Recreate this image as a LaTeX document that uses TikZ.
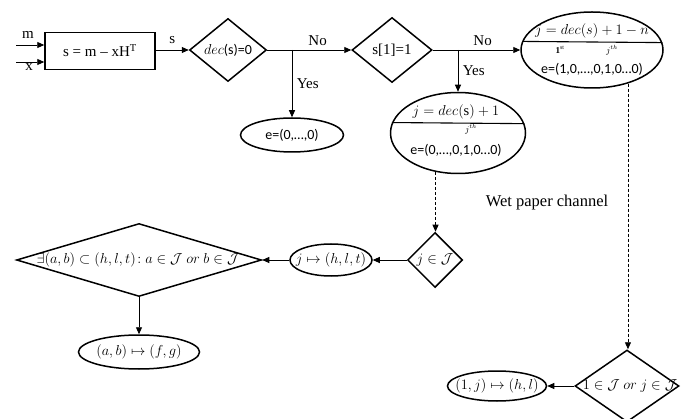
\documentclass[tikz,border=0pt]{standalone}
\usepackage{fontspec}
\setmainfont{Liberation Serif}
\newfontfamily\sansf{Carlito}
\usetikzlibrary{shapes.geometric,arrows.meta,calc}
\begin{document}
\begin{tikzpicture}[x=1pt,y=-1pt,
  every node/.style={font=\fontsize{15}{17}\selectfont},
  shp/.style={draw,line width=1.5pt,inner sep=0pt},
  dia/.style={shp,diamond},
  ell/.style={shp,ellipse},
  conn/.style={line width=0.9pt,-{Triangle[length=7pt,width=6pt]}},
  dconn/.style={conn,densely dashed},
  mth/.style={inner sep=1pt,font=\fontsize{14.5}{16}\selectfont},
  snt/.style={inner sep=1pt,font=\fontsize{14}{16}\selectfont\sansf},
  tiny/.style={inner sep=0pt,font=\fontsize{9}{10}\selectfont}
]
\useasboundingbox (0,0) rectangle (687,419);

% input box
\node[shp,rectangle,minimum width=110pt,minimum height=37pt] (B) at (100,51) {s = m -- xH\textsuperscript{T}};
\coordinate (mi) at (16,45);
\coordinate (xi) at (16,62);
\draw[conn] (mi) -- (mi -| B.west);
\draw[conn] (xi) -- (xi -| B.west);
\node (ml) at (28,35) {m};
\node (xl) at (29,67) {x};

% decision 1
\node[dia,minimum width=77pt,minimum height=63pt] (d1) at (228,50) {};
\node[snt] (d1t) at (d1) {{\fontsize{14}{16}\selectfont$dec$}(s)=0};
\draw[conn] (B.east |- d1.west) -- (d1.west) node[midway,above=3pt] {s};

% decision 2
\node[dia,minimum width=80pt,minimum height=65pt] (d2) at (392,50) {};
\node (d2t) at (d2) {s[1]=1};
\draw[conn] (d1.east) -- (d2.west) node[pos=0.6,above=1pt] {No};

% yes branch of d1
\coordinate (b1) at (292,50);
\node[ell,minimum width=103pt,minimum height=34pt] (e1) at (292,135) {};
\node[snt] (e1t) at (e1) {e=(0,\dots,0)};
\draw[conn] (b1) -- (e1.north) node[midway,right=1pt] {Yes};

% ellipse 3 (No of d2)
\node[ell,minimum width=142pt,minimum height=76pt] (e3) at (592,50) {};
\draw[line width=1.1pt] (e3.6.6) -- (e3.173.4);
\node[mth] (e3a) at (592,31) {$j = dec(s) + 1 - n$};
\node[tiny] (e3b) at (560,50) {\textbf{1}\textsuperscript{st}};
\node[tiny] (e3c) at (612,50) {$j^{th}$};
\node[snt] (e3d) at (592,69) {e=(1,0,\dots,0,1,0\dots0)};
\draw[conn] (d2.east) -- (e3.west) node[pos=0.57,above=1pt] {No};

% ellipse 2 (Yes of d2)
\coordinate (b2) at (458,50);
\node[ell,minimum width=135pt,minimum height=81pt] (e2) at (458,133) {};
\draw[line width=1.1pt] (e2.8.7) -- (e2.171.3);
\node[mth] (e2a) at (456,112) {$j = dec(\mathrm{s}) + 1$};
\node[tiny] (e2b) at (471,129) {$j^{th}$};
\node[snt] (e2c) at (456,150) {e=(0,\dots,0,1,0\dots0)};
\draw[conn] (b2) -- (e2.north) node[midway,right=1pt] {Yes};

% j in J
\node[dia,minimum width=55pt,minimum height=55pt] (dJ) at (435,260) {};
\node[mth] (dJt) at (dJ) {$j\in\mathcal{J}$};
\draw[dconn] (e2.240) -- (e2.240 |- dJ.north);

\node[ell,minimum width=82pt,minimum height=32pt] (eH) at (331,260) {};
\node[mth] (eHt) at (eH) {$j\mapsto(h,l,t)$};
\draw[conn] (dJ.west) -- (eH.east);

\node[dia,minimum width=245pt,minimum height=73pt] (D3) at (139,260) {};
\node[mth] (D3t) at (138,260) {$\exists(a,b)\subset(h,l,t)\!:a\in\mathcal{J}\ or\ b\in\mathcal{J}$};
\draw[conn] (eH.west) -- (D3.east);

\node[ell,minimum width=121pt,minimum height=34pt] (eAB) at (139,352) {};
\node[mth] (eABt) at (eAB) {$(a,b)\mapsto(f,g)$};
\draw[conn] (D3.south) -- (eAB.north);

\node[font=\fontsize{16.5}{18}\selectfont] (wet) at (547,203) {Wet paper channel};

% bottom right
\node[dia,minimum width=104pt,minimum height=72pt] (d4) at (627,386) {};
\node[mth] (d4t) at (630,386) {$1\in\mathcal{J}\ or\ j\in\mathcal{J}$};
\draw[dconn] (e3.-43) -- (e3.-43 |- d4.north);

\node[ell,minimum width=99pt,minimum height=30pt] (e4) at (497,386) {};
\node[mth] (e4t) at (e4) {$(1,j)\mapsto(h,l)$};
\draw[conn] (d4.west) -- (e4.east);
\end{tikzpicture}
\end{document}
